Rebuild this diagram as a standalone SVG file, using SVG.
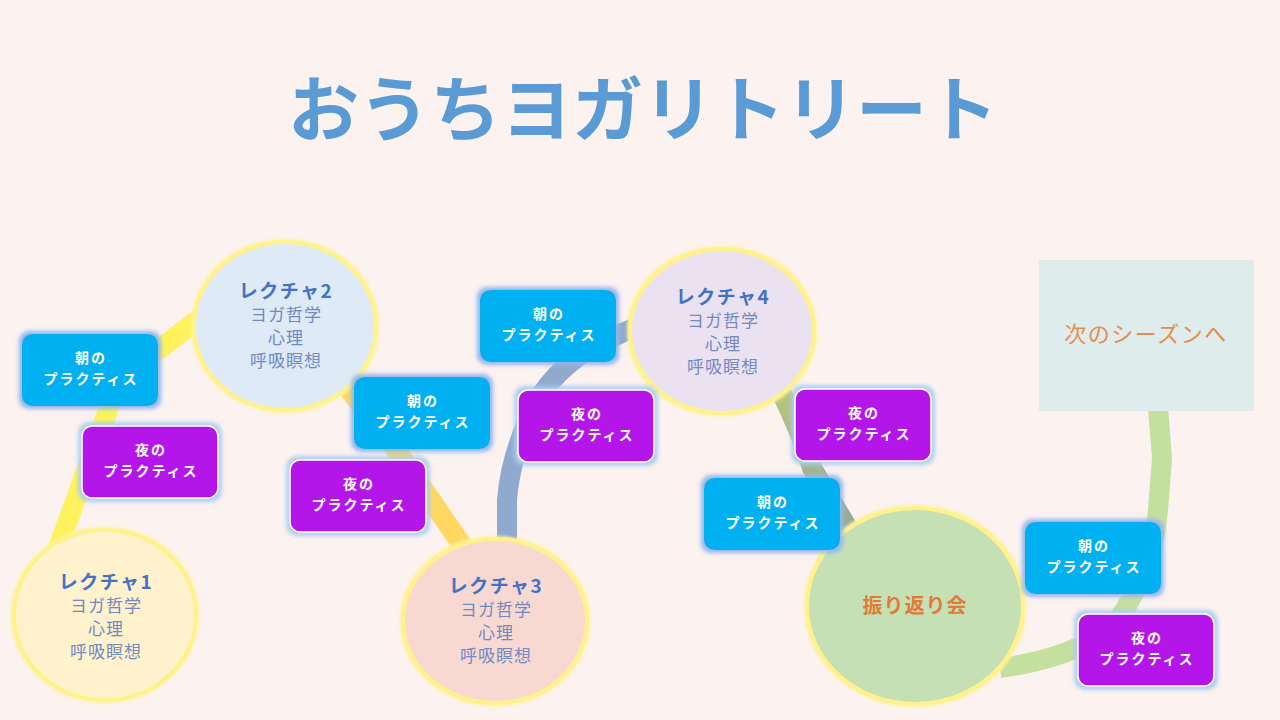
<svg xmlns="http://www.w3.org/2000/svg" width="1280" height="720" viewBox="0 0 1280 720">
<defs>
<filter id="glowY" x="-20%" y="-20%" width="140%" height="140%">
<feMorphology in="SourceAlpha" operator="dilate" radius="1" result="d"/>
<feGaussianBlur in="d" stdDeviation="1.8" result="b"/>
<feFlood flood-color="#FFF49A"/>
<feComposite in2="b" operator="in" result="g"/>
<feMerge><feMergeNode in="g"/><feMergeNode in="SourceGraphic"/></feMerge>
</filter>
<filter id="glowB" x="-20%" y="-30%" width="140%" height="160%">
<feMorphology in="SourceAlpha" operator="dilate" radius="2.5" result="d"/>
<feGaussianBlur in="d" stdDeviation="2.2" result="b"/>
<feFlood flood-color="#93B6EA"/>
<feComposite in2="b" operator="in" result="g"/>
<feMerge><feMergeNode in="g"/><feMergeNode in="SourceGraphic"/></feMerge>
</filter>
<filter id="glowP" x="-20%" y="-30%" width="140%" height="160%">
<feMorphology in="SourceAlpha" operator="dilate" radius="2.5" result="d"/>
<feGaussianBlur in="d" stdDeviation="2.2" result="b"/>
<feFlood flood-color="#A9CDF2"/>
<feComposite in2="b" operator="in" result="g"/>
<feMerge><feMergeNode in="g"/><feMergeNode in="SourceGraphic"/></feMerge>
</filter>
<linearGradient id="olive" gradientUnits="userSpaceOnUse" x1="0" y1="385" x2="0" y2="535">
<stop offset="0" stop-color="#BAC67C"/>
<stop offset="1" stop-color="#92A89A"/>
</linearGradient>
<style>
.jp{font-family:"Noto Sans CJK JP","Noto Sans",sans-serif;}
.lec{stroke:#FFF28C;stroke-width:4;filter:url(#glowY);}
.lt{font-size:19px;font-weight:700;fill:#4472C4;letter-spacing:1.5px;text-anchor:middle;}
.ls{font-size:17px;font-weight:400;fill:#7289C2;letter-spacing:1px;text-anchor:middle;}
.am{fill:#00B0F0;filter:url(#glowB);}
.yo{fill:#B418EA;stroke:#FFFFFF;stroke-width:1.5;filter:url(#glowP);}
.bt{font-size:14px;font-weight:700;fill:#FFFFFF;letter-spacing:2px;text-anchor:middle;}
.cn{fill:none;stroke-width:20;stroke-linejoin:round;}
</style>
</defs>
<rect width="1280" height="720" fill="#FCF2F0"/>
<text class="jp" x="643" y="135" font-size="71" font-weight="700" fill="#5B9BD5" text-anchor="middle">おうちヨガリトリート</text>

<g id="connectors">
<path class="cn" stroke="#FFF25E" d="M 58 548 L 119 380 L 200 318"/>
<path class="cn" stroke="#FFD862" d="M 340 378 L 400 455 L 462 545"/>
<path class="cn" stroke="#8FAACC" d="M 507 545 L 507 500 Q 510 460 530 415 Q 550 370 600 343 L 640 325"/>
<path class="cn" stroke="url(#olive)" d="M 780 390 Q 800 430 812 468 L 852 535"/>
<path class="cn" stroke="#C5DF9F" stroke-width="18" d="M 1000 668 C 1060 660 1110 640 1128 604 C 1150 565 1155 540 1158 510 L 1162 458 L 1158 408"/>
</g>

<g id="lecture1">
<ellipse class="lec" cx="105" cy="615" rx="91" ry="85" fill="#FFF2CC"/>
<text class="jp lt" x="106" y="589">レクチャ1</text>
<text class="jp ls" x="106" y="612">ヨガ哲学</text>
<text class="jp ls" x="106" y="635">心理</text>
<text class="jp ls" x="106" y="658">呼吸瞑想</text>
</g>
<g id="lecture2">
<ellipse class="lec" cx="285" cy="326" rx="91" ry="84" fill="#DEEAF6"/>
<text class="jp lt" x="286" y="298">レクチャ2</text>
<text class="jp ls" x="286" y="321">ヨガ哲学</text>
<text class="jp ls" x="286" y="344">心理</text>
<text class="jp ls" x="286" y="367">呼吸瞑想</text>
</g>
<g id="lecture3">
<ellipse class="lec" cx="495" cy="621" rx="92" ry="82" fill="#F8D9D2"/>
<text class="jp lt" x="496" y="593">レクチャ3</text>
<text class="jp ls" x="496" y="616">ヨガ哲学</text>
<text class="jp ls" x="496" y="639">心理</text>
<text class="jp ls" x="496" y="662">呼吸瞑想</text>
</g>
<g id="lecture4">
<ellipse class="lec" cx="722" cy="331" rx="92" ry="82" fill="#EAE2F0"/>
<text class="jp lt" x="723" y="304">レクチャ4</text>
<text class="jp ls" x="723" y="327">ヨガ哲学</text>
<text class="jp ls" x="723" y="350">心理</text>
<text class="jp ls" x="723" y="373">呼吸瞑想</text>
</g>
<g id="review">
<ellipse class="lec" cx="915" cy="606" rx="108" ry="98" fill="#C5E0B4"/>
<text class="jp" x="915" y="613" font-size="20" font-weight="700" fill="#E07B39" letter-spacing="1" text-anchor="middle">振り返り会</text>
</g>
<g id="next-season">
<rect x="1039" y="260" width="215" height="151" fill="#DEECEB"/>
<text class="jp" x="1146" y="342" font-size="22" font-weight="400" fill="#E38D4F" letter-spacing="1.5" text-anchor="middle">次のシーズンへ</text>
</g>

<g id="morning1"><rect class="am" x="22" y="334" width="136" height="72" rx="10"/><text class="jp bt" x="91" y="363">朝の</text><text class="jp bt" x="91" y="384">プラクティス</text></g>
<g id="night1"><rect class="yo" x="82" y="426" width="136" height="72" rx="10"/><text class="jp bt" x="151" y="455">夜の</text><text class="jp bt" x="151" y="476">プラクティス</text></g>
<g id="morning2"><rect class="am" x="354" y="377" width="136" height="72" rx="10"/><text class="jp bt" x="423" y="406">朝の</text><text class="jp bt" x="423" y="427">プラクティス</text></g>
<g id="night2"><rect class="yo" x="290" y="460" width="136" height="72" rx="10"/><text class="jp bt" x="359" y="489">夜の</text><text class="jp bt" x="359" y="510">プラクティス</text></g>
<g id="morning3"><rect class="am" x="480" y="290" width="136" height="72" rx="10"/><text class="jp bt" x="549" y="319">朝の</text><text class="jp bt" x="549" y="340">プラクティス</text></g>
<g id="night3"><rect class="yo" x="518" y="390" width="136" height="72" rx="10"/><text class="jp bt" x="587" y="419">夜の</text><text class="jp bt" x="587" y="440">プラクティス</text></g>
<g id="night4"><rect class="yo" x="795" y="389" width="136" height="72" rx="10"/><text class="jp bt" x="864" y="418">夜の</text><text class="jp bt" x="864" y="439">プラクティス</text></g>
<g id="morning4"><rect class="am" x="704" y="478" width="136" height="72" rx="10"/><text class="jp bt" x="773" y="507">朝の</text><text class="jp bt" x="773" y="528">プラクティス</text></g>
<g id="morning5"><rect class="am" x="1025" y="522" width="136" height="72" rx="10"/><text class="jp bt" x="1094" y="551">朝の</text><text class="jp bt" x="1094" y="572">プラクティス</text></g>
<g id="night5"><rect class="yo" x="1078" y="614" width="136" height="72" rx="10"/><text class="jp bt" x="1147" y="643">夜の</text><text class="jp bt" x="1147" y="664">プラクティス</text></g>
</svg>
